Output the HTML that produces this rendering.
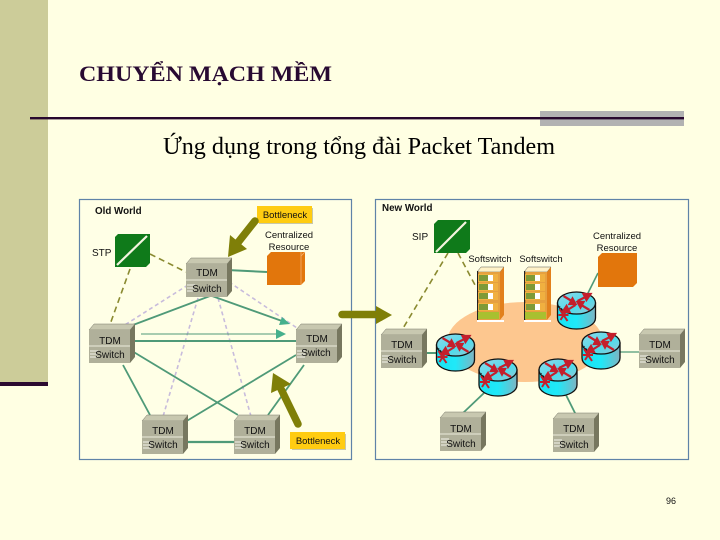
<!DOCTYPE html>
<html><head><meta charset="utf-8"><style>
html,body{margin:0;padding:0;background:#ffffe3;width:720px;height:540px;overflow:hidden}
svg{display:block;position:absolute;left:0;top:0}
.s{font-family:"Liberation Sans",sans-serif;font-size:10px;fill:#111}
.m{text-anchor:middle}
.t{font-family:"Liberation Serif",serif}
</style></head><body>
<svg width="720" height="540" viewBox="0 0 720 540" xmlns="http://www.w3.org/2000/svg">
<defs>
<linearGradient id="cy" x1="0" y1="0" x2="1" y2="0"><stop offset="0" stop-color="#18e4f4"/><stop offset=".5" stop-color="#20e8f8"/><stop offset="1" stop-color="#7fb4c2"/></linearGradient>
<linearGradient id="ct" x1="0" y1="0" x2="1" y2="1"><stop offset="0" stop-color="#8fd8e8"/><stop offset=".6" stop-color="#50dcec"/><stop offset="1" stop-color="#a0c4d0"/></linearGradient>
<g id="sw">
<path d="M0 0L5-6H46L41 0Z" fill="#c8c8b0" stroke="#77776a" stroke-width=".5"/>
<path d="M41 0L46-6V27L41 33Z" fill="#77775f"/>
<rect width="41" height="33" fill="#b0b09a"/>
<path d="M0 16H41" stroke="#ececdc" stroke-width="1"/>
<path d="M1 21H9M1 24H9M1 27H9" stroke="#f4f4ec" stroke-width="1"/>
</g>
<g id="rt">
<path d="M0 11V26C0 32 8 37 19 37S38 32 38 26V11Z" fill="url(#cy)" stroke="#111" stroke-width="1.3"/>
<ellipse cx="19" cy="11" rx="19" ry="11" fill="url(#ct)" stroke="#111" stroke-width="1.3"/>
<path d="M19 22C12 22 5 19 2 14" fill="none" stroke="#111" stroke-width=".6" stroke-dasharray="2 1"/>
<g stroke="#c41f2c" stroke-width="2.2" fill="#c41f2c">
<path d="M6 4L15 9.500"/><path d="M18 12L12 12 15 6.500Z"/>
<path d="M32 18L23 12.500"/><path d="M20 10L26 10 23 15.500Z"/>
<path d="M20 9L28 5"/><path d="M33 2L26 2 29 8Z"/>
<path d="M18 13L10 18"/><path d="M5 20L12 20 9 14Z"/>
<path d="M2 17L10 29M10 17L3 28" stroke-width="2"/>
<path d="M1 23H11" stroke-width="2"/>
</g>
</g>
<g id="rack">
<path d="M0 5L4 0H27L23 5Z" fill="#fff2c8" stroke="#333" stroke-width=".4"/>
<path d="M23 5L27 0V48L23 53Z" fill="#e2801c"/>
<rect y="5" width="23" height="48" fill="#e6a040"/>
<rect y="53" width="27" height="2" fill="#fff"/>
<rect x="0" y="4" width="1.200" height="49" fill="#222"/>
<g>
<rect x="1" y="7" width="20" height="8" fill="#f0b040"/><rect x="2" y="8" width="9" height="6" fill="#7e9a38"/><rect x="11" y="8" width="5" height="6" fill="#fff"/>
<rect x="1" y="16" width="20" height="8" fill="#f0b040"/><rect x="2" y="17" width="9" height="6" fill="#7e9a38"/><rect x="11" y="17" width="5" height="6" fill="#fff"/>
<rect x="1" y="25" width="20" height="8" fill="#f0b040"/><rect x="2" y="26" width="9" height="6" fill="#7e9a38"/><rect x="11" y="26" width="5" height="6" fill="#fff"/>
<rect x="1" y="36" width="20" height="8" fill="#f0b040"/><rect x="2" y="37" width="9" height="6" fill="#7e9a38"/><rect x="11" y="37" width="5" height="6" fill="#fff"/>
<rect x="1" y="45" width="21" height="7" fill="#a8c030"/>
</g>
</g>
</defs>

<rect x="0" y="0" width="48" height="382" fill="#cccc99"/>
<rect x="0" y="382" width="48" height="4" fill="#2b0a30"/>
<rect x="540" y="111" width="144" height="15" fill="#b2b2b2"/>
<rect x="30" y="117" width="654" height="2.4" fill="#28082e"/>
<text class="t" x="79" y="81" font-size="22" font-weight="bold" fill="#280a32" textLength="253" lengthAdjust="spacingAndGlyphs">CHUYỂN MẠCH MỀM</text>
<text class="t" x="163" y="154" font-size="24" fill="#000" textLength="392" lengthAdjust="spacingAndGlyphs">Ứng dụng trong tổng đài Packet Tandem</text>

<!-- panels -->
<rect x="79.5" y="199.5" width="272" height="260" fill="#ffffe6" stroke="#5f83a8" stroke-width="1.2"/>
<rect x="375.5" y="199.5" width="313" height="260" fill="#ffffe6" stroke="#5f83a8" stroke-width="1.2"/>

<!-- left connectors -->
<g fill="none" stroke="#c8bcdc" stroke-width="1.600" stroke-dasharray="4 3">
<path d="M188 285L120 328"/><path d="M229 282L300 330"/><path d="M198 298L162 420"/><path d="M218 298L252 420"/>
</g>
<g fill="none" stroke="#4f9a78">
<path d="M227 270L267 272" stroke-width="2"/>
<path d="M133 325L210 296" stroke-width="1.8"/>
<path d="M212 296L282 321" stroke-width="1.8"/>
<path d="M141 334L280 334" stroke-width="1"/>
<path d="M128 341L296 341" stroke-width="2"/>
<path d="M132 351L238 415" stroke-width="1.8"/>
<path d="M296 355L185 422" stroke-width="1.8"/>
<path d="M123 365L150 415" stroke-width="1.8"/>
<path d="M304 365L268 415" stroke-width="1.8"/>
<path d="M182 442L234 442" stroke-width="2.2"/>
</g>
<path d="M290 324L279 325 282 317Z" fill="#45b08c"/>
<path d="M286 334L276 329V339Z" fill="#45b08c"/>
<g fill="none" stroke="#8a8a30" stroke-width="1.6" stroke-dasharray="6 4">
<path d="M150 254L186 272"/><path d="M130 269L108 330"/>
<path d="M448 253L402 330"/><path d="M458 253L475 285"/>
</g>

<!-- cloud -->
<ellipse cx="525" cy="342" rx="78" ry="40" fill="#fdc78f"/>

<!-- right connectors -->
<g fill="none" stroke="#4f9a78">
<path d="M598 273L587 295" stroke-width="1.6"/>
<path d="M421 353L442 353" stroke-width="2"/>
<path d="M616 352L640 352" stroke-width="1.2"/>
<path d="M484 393L463 413" stroke-width="1.8"/>
<path d="M566 395L576 415" stroke-width="1.8"/>
</g>

<!-- left switches -->
<use href="#sw" x="186" y="264"/><text class="s m" x="207" y="276">TDM</text><text class="s m" x="207" y="292">Switch</text>
<use href="#sw" x="89" y="330"/><text class="s m" x="110" y="344">TDM</text><text class="s m" x="110" y="358">Switch</text>
<use href="#sw" x="296" y="330"/><text class="s m" x="317" y="342">TDM</text><text class="s m" x="316" y="356">Switch</text>
<use href="#sw" x="142" y="421"/><text class="s m" x="163" y="434">TDM</text><text class="s m" x="163" y="448">Switch</text>
<use href="#sw" x="234" y="421"/><text class="s m" x="255" y="434">TDM</text><text class="s m" x="255" y="448">Switch</text>
<!-- right switches -->
<use href="#sw" x="381" y="335"/><text class="s m" x="402" y="348">TDM</text><text class="s m" x="402" y="363">Switch</text>
<use href="#sw" x="639" y="335"/><text class="s m" x="660" y="348">TDM</text><text class="s m" x="660" y="363">Switch</text>
<use href="#sw" x="440" y="418"/><text class="s m" x="461" y="432">TDM</text><text class="s m" x="461" y="447">Switch</text>
<use href="#sw" x="553" y="419"/><text class="s m" x="574" y="432">TDM</text><text class="s m" x="574" y="448">Switch</text>

<!-- green signaling boxes -->
<path d="M115 237L118 234H150V263L146 267H115Z" fill="#0f7a1a"/>
<path d="M117 265L147 236" stroke="#f4f4e0" stroke-width="2.2"/>
<path d="M434 224L438 220H470V249L466 253H434Z" fill="#0f7a1a"/>
<path d="M436 252L466 222" stroke="#f4f4e0" stroke-width="2.2"/>

<!-- orange resources -->
<path d="M267 256L271 252H305V281L301 285H267Z" fill="#e2760c"/>
<path d="M301 252V285M301 256L305 252" stroke="#f4b070" stroke-width=".8" fill="none"/>
<path d="M598 257L602 253H637V283L633 287H598Z" fill="#e2760c"/>

<!-- racks -->
<use href="#rack" x="477" y="267"/>
<use href="#rack" x="524" y="267"/>

<!-- routers -->
<use href="#rt" x="557.500" y="292"/>
<use href="#rt" x="436.500" y="334"/>
<use href="#rt" x="479" y="359"/>
<use href="#rt" x="539" y="359"/>
<use href="#rt" x="582" y="332"/>

<!-- bottleneck labels -->
<rect x="259" y="208" width="54" height="16" fill="#c8c8a8"/>
<rect x="257" y="206" width="55" height="17" fill="#ffcc11"/>
<text class="s m" x="285" y="218" style="font-size:9.5px">Bottleneck</text>
<rect x="292" y="434" width="54" height="16" fill="#c8c8a8"/>
<rect x="290" y="432" width="55" height="17" fill="#ffcc11"/>
<text class="s m" x="318" y="444" style="font-size:9.5px">Bottleneck</text>

<!-- olive arrows -->
<g fill="none" stroke="#7f7f08" stroke-width="7.500" stroke-linecap="round">
<path d="M255 221L236 245"/>
<path d="M298 424L281 389"/>
<path d="M342 314.500L380 314.500"/>
</g>
<path d="M228 257L230 235 247 249Z" fill="#7f7f08"/>
<path d="M273 373L271 393 291 384Z" fill="#7f7f08"/>
<path d="M392 315L376 306V324Z" fill="#7f7f08"/>

<!-- labels -->
<text class="s" x="95" y="214" style="font-size:9.800px;font-weight:bold">Old World</text>
<text class="s" x="382" y="211" style="font-size:9.800px;font-weight:bold">New World</text>
<text class="s" x="92" y="256">STP</text>
<text class="s" x="412" y="240">SIP</text>
<text class="s m" x="289" y="238" style="font-size:9.500px">Centralized</text>
<text class="s m" x="289" y="250" style="font-size:9.500px">Resource</text>
<text class="s m" x="617" y="239" style="font-size:9.500px">Centralized</text>
<text class="s m" x="617" y="251" style="font-size:9.500px">Resource</text>
<text class="s m" x="490" y="262" style="font-size:9.500px">Softswitch</text>
<text class="s m" x="541" y="262" style="font-size:9.500px">Softswitch</text>
<text class="s m" x="671" y="504" style="font-size:9px;fill:#111">96</text>
</svg>
</body></html>
